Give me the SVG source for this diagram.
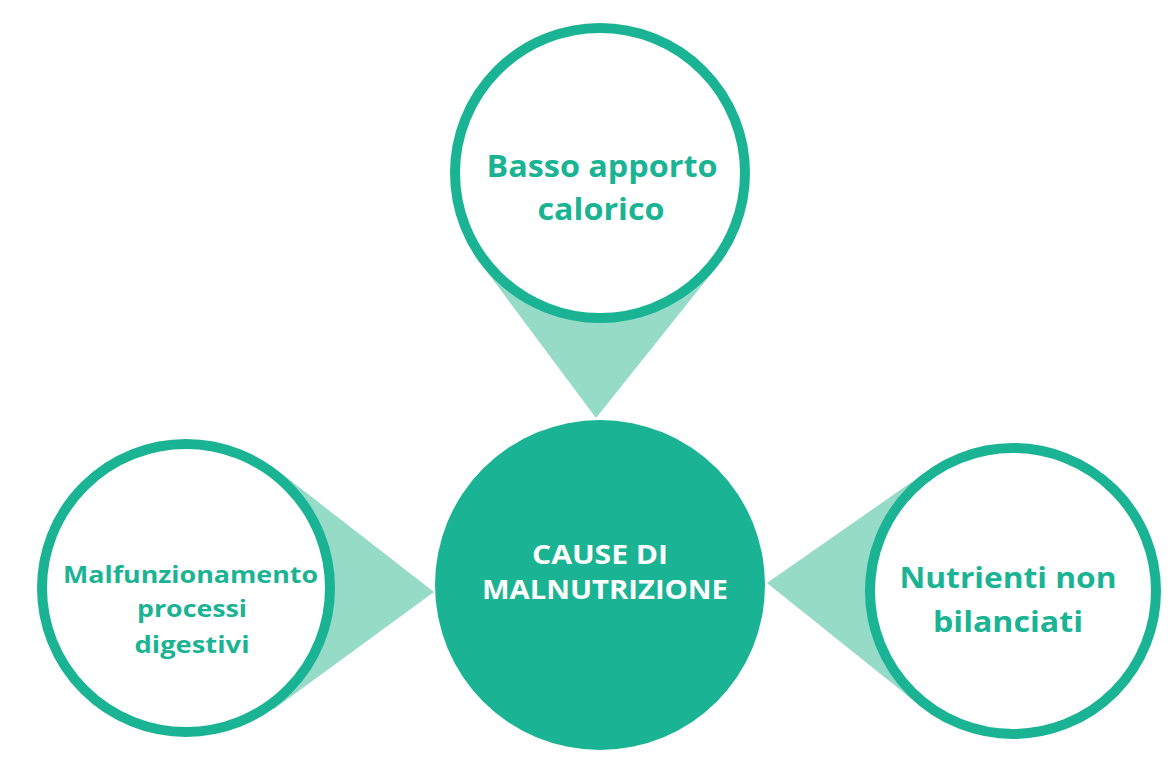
<svg xmlns="http://www.w3.org/2000/svg" width="1170" height="773" viewBox="0 0 1170 773">
<style>
.ring{fill:#ffffff;stroke:#1ab394;stroke-width:10}
.cone{fill:#96dac8}
.lbl{font-family:"Open Sans","Liberation Sans",sans-serif;font-weight:700;fill:#1ab394;text-anchor:middle}
.hub{font-family:"Open Sans","Liberation Sans",sans-serif;font-weight:700;fill:#ffffff;text-anchor:middle}
</style>
<rect width="1170" height="773" fill="#ffffff"/>
<g id="connectors">
<polygon class="cone" points="482,265 600,173 715,269 596,418"/>
<polygon class="cone" points="277,470 186,588 274,709 434,592"/>
<polygon class="cone" points="926,472 1013,591 918,704 767,583"/>
</g>
<g id="node-top">
<circle class="ring" cx="600" cy="173" r="145"/>
<text class="lbl" font-size="31" x="602" y="177" textLength="231" lengthAdjust="spacingAndGlyphs">Basso apporto</text>
<text class="lbl" font-size="31" x="601" y="220" textLength="127" lengthAdjust="spacingAndGlyphs">calorico</text>
</g>
<g id="node-left">
<circle class="ring" cx="186" cy="588" r="144"/>
<text class="lbl" font-size="24" x="190.5" y="583" textLength="255" lengthAdjust="spacingAndGlyphs">Malfunzionamento</text>
<text class="lbl" font-size="24" x="192" y="617" textLength="110" lengthAdjust="spacingAndGlyphs">processi</text>
<text class="lbl" font-size="24" x="192" y="653" textLength="115" lengthAdjust="spacingAndGlyphs">digestivi</text>
</g>
<g id="node-right">
<circle class="ring" cx="1013" cy="591" r="143"/>
<text class="lbl" font-size="28" x="1008" y="588" textLength="217" lengthAdjust="spacingAndGlyphs">Nutrienti non</text>
<text class="lbl" font-size="28" x="1008" y="632" textLength="150" lengthAdjust="spacingAndGlyphs">bilanciati</text>
</g>
<g id="node-center">
<circle cx="600" cy="585" r="165" fill="#1ab394"/>
<text class="hub" font-size="26" x="600" y="564" textLength="136" lengthAdjust="spacingAndGlyphs">CAUSE DI</text>
<text class="hub" font-size="26" x="605" y="599" textLength="246" lengthAdjust="spacingAndGlyphs">MALNUTRIZIONE</text>
</g>
</svg>
